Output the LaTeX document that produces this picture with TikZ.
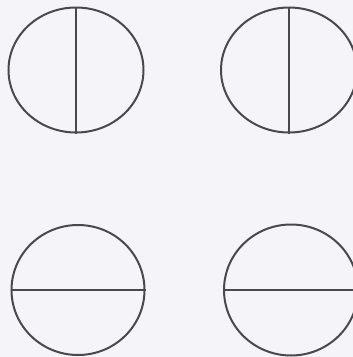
\documentclass[tikz,border=0pt]{standalone}
\usetikzlibrary{shapes.geometric}
\definecolor{paper}{HTML}{F4F4F9}
\definecolor{ink}{HTML}{48484D}
\begin{document}
\begin{tikzpicture}[x=1pt,y=-1pt,
  disc/.style={ellipse,draw=ink,line width=2pt,inner sep=0pt},
  chord/.style={draw=ink,line width=2pt}]
\fill[paper] (0,0) rectangle (353,357);
\useasboundingbox (0,0) rectangle (353,357);
\node[disc,minimum width=135pt,minimum height=125pt] (a) at (76,70) {};
\node[disc,minimum width=136pt,minimum height=125pt] (b) at (289,70) {};
\node[disc,minimum width=133pt,minimum height=130pt] (c) at (78,290) {};
\node[disc,minimum width=134pt,minimum height=131pt] (d) at (291,290) {};
\draw[chord] (a.north) -- (a.south);
\draw[chord] (b.north) -- (b.south);
\draw[chord] (c.west) -- (c.east);
\draw[chord] (d.west) -- (d.east);
\end{tikzpicture}
\end{document}
